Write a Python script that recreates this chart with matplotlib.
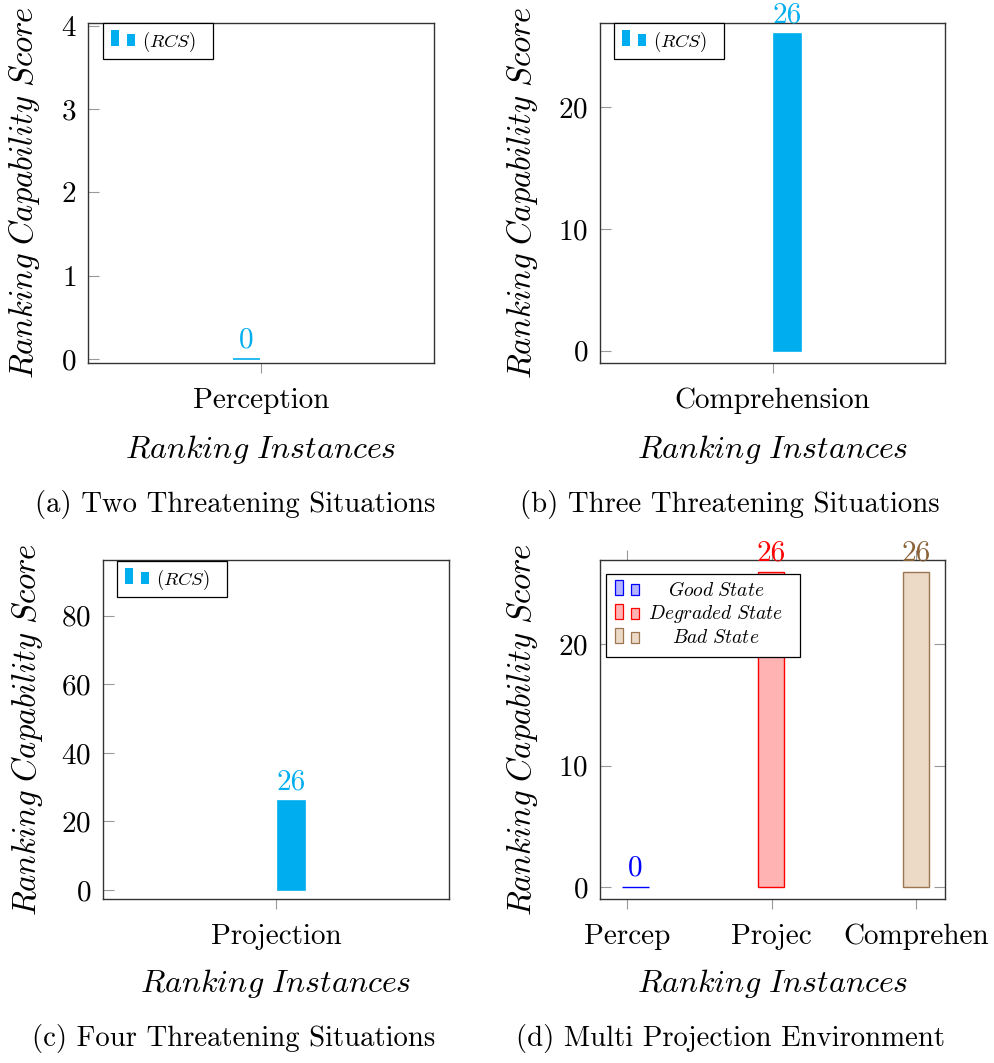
import matplotlib
matplotlib.use("Agg")
import matplotlib.pyplot as plt
from matplotlib.patches import Rectangle

plt.rcParams['font.family'] = 'cmr10'
plt.rcParams['mathtext.fontset'] = 'cm'
plt.rcParams['axes.formatter.use_mathtext'] = True
plt.rcParams['axes.unicode_minus'] = False

# datos de cada panel
cats_a = ['Perception']
rcs_a = [0]
cats_b = ['Comprehension']
rcs_b = [26]
cats_c = ['Projection']
rcs_c = [26]
cats_d = ['Percep', 'Projec', 'Comprehen']
good_d = [0]        # en Percep
degraded_d = [26]   # en Projec
bad_d = [26]        # en Comprehen

captions = ['(a) Two Threatening Situations', '(b) Three Threatening Situations',
            '(c) Four Threatening Situations', '(d) Multi Projection Environment']

CYAN = '#00AEEF'
W, H = 994, 1063
fig = plt.figure(figsize=(W / 100, H / 100), dpi=100)


def caja(l, t, r, b):
    return [l / W, 1 - b / H, (r - l) / W, (b - t) / H]


def rect_px(l, t, r, b, **kw):
    fig.add_artist(Rectangle((l / W, 1 - b / H), (r - l) / W, (b - t) / H,
                             transform=fig.transFigure, **kw))


def estilo(ax, ylim, yticks, mirror=False):
    ax.set_ylim(*ylim)
    ax.set_yticks(yticks)
    for s in ax.spines.values():
        s.set_color('#333333')
        s.set_linewidth(1.0)
    ax.tick_params(axis='y', direction='in', length=8, width=0.8, color='#999999',
                   labelsize=21, pad=8.5, right=mirror)
    ax.tick_params(axis='x', direction='out', length=7.5, width=0.8, color='#999999',
                   labelsize=21, pad=10, top=mirror)
    ax.set_ylabel(r'$Ranking\ Capability\ Score$', fontsize=23.5, va='center')
    ax.set_xlabel(r'$Ranking\ Instances$', fontsize=23, va='center')


def etiqueta(ax, x, v, color):
    ax.annotate(f'{v}', (x, v), xytext=(0, 8), textcoords='offset points',
                ha='center', va='baseline', fontsize=21, color=color,
                annotation_clip=False)


def leyenda_rcs(l, t):
    rect_px(l, t, l + 110, t + 36, facecolor='white', edgecolor='black', linewidth=0.9)
    rect_px(l + 8, t + 7, l + 16, t + 23, facecolor=CYAN, edgecolor='none')
    rect_px(l + 24, t + 11, l + 32, t + 23, facecolor=CYAN, edgecolor='none')
    fig.text((l + 39) / W, 1 - (t + 19) / H, r'$(RCS)$', fontsize=13.5,
             ha='left', va='center')


# (a) Two Threatening Situations
ax = fig.add_axes(caja(88, 23, 434, 363))
ax.bar([i - 0.085 for i in range(len(cats_a))], rcs_a, width=0.156,
       color=CYAN, edgecolor=CYAN, linewidth=1.2)
for i, v in enumerate(rcs_a):
    etiqueta(ax, i - 0.085, v, CYAN)
ax.set_xlim(-1, 1)
ax.set_xticks(range(len(cats_a)), cats_a)
estilo(ax, (-0.05, 4.03), [0, 1, 2, 3, 4])
ax.yaxis.set_label_coords(-0.185, 0.5)
ax.xaxis.set_label_coords(0.5, -0.255)
leyenda_rcs(103, 23)

# (b) Three Threatening Situations
ax = fig.add_axes(caja(600, 23, 945, 363))
ax.bar([i + 0.085 for i in range(len(cats_b))], rcs_b, width=0.156,
       color=CYAN, edgecolor=CYAN, linewidth=1.2)
for i, v in enumerate(rcs_b):
    etiqueta(ax, i + 0.085, v, CYAN)
ax.set_xlim(-1, 1)
ax.set_xticks(range(len(cats_b)), cats_b)
estilo(ax, (-1, 26.9), [0, 10, 20])
ax.yaxis.set_label_coords(-0.226, 0.5)
ax.xaxis.set_label_coords(0.5, -0.255)
leyenda_rcs(614, 23)

# (c) Four Threatening Situations
ax = fig.add_axes(caja(103, 560, 449, 899))
ax.bar([i + 0.087 for i in range(len(cats_c))], rcs_c, width=0.156,
       color=CYAN, edgecolor=CYAN, linewidth=1.2)
for i, v in enumerate(rcs_c):
    etiqueta(ax, i + 0.087, v, CYAN)
ax.set_xlim(-1, 1)
ax.set_xticks(range(len(cats_c)), cats_c)
estilo(ax, (-2.6, 96.2), [0, 20, 40, 60, 80])
ax.yaxis.set_label_coords(-0.22, 0.5)
ax.xaxis.set_label_coords(0.5, -0.25)
leyenda_rcs(117, 561)

# (d) Multi Projection Environment
estados = [
    ('Good State', good_d, 0, 0.055, '#B3B3FF', '#0000FF', '#0000FF'),
    ('Degraded State', degraded_d, 1, -0.004, '#FFB3B3', '#FF0000', '#FF0000'),
    ('Bad State', bad_d, 2, 0.0, '#ECD9C6', '#9C7650', '#8C6239'),
]
ax = fig.add_axes(caja(600, 560, 945, 899))
for nombre, vals, pos, off, fc, ec, tc in estados:
    xs = [pos + off + i for i in range(len(vals))]
    ax.bar(xs, vals, width=0.184, color=fc, edgecolor=ec, linewidth=1.0)
    for x, v in zip(xs, vals):
        etiqueta(ax, x, v, tc)
ax.set_xlim(-0.19, 2.2)
ax.set_xticks(range(len(cats_d)), cats_d)
estilo(ax, (-1, 26.96), [0, 10, 20], mirror=True)
ax.yaxis.set_label_coords(-0.226, 0.5)
ax.xaxis.set_label_coords(0.5, -0.25)

# leyenda de (d)
l, t = 606, 574
rect_px(l, t, 800, 657, facecolor='white', edgecolor='black', linewidth=0.9)
for k, (nombre, vals, pos, off, fc, ec, tc) in enumerate(estados):
    cy = t + 16 + k * 24
    rect_px(l + 9, cy - 10, l + 17, cy + 5, facecolor=fc, edgecolor=ec, linewidth=0.9)
    rect_px(l + 25, cy - 6, l + 33, cy + 5, facecolor=fc, edgecolor=ec, linewidth=0.9)
    fig.text((l + 110) / W, 1 - cy / H, '$' + nombre.replace(' ', r'\ ') + '$',
             fontsize=14, ha='center', va='center')

# leyendas de subfigura
for texto, cx, base in zip(captions, [235, 730, 234, 730], [512, 512, 1046, 1046]):
    fig.text(cx / W, 1 - base / H, texto, fontsize=20.7, ha='center', va='baseline')

fig.savefig('out.png', dpi=100)
